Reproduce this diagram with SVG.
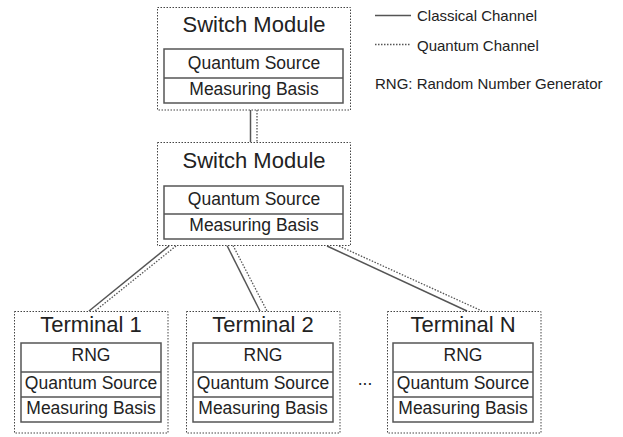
<svg xmlns="http://www.w3.org/2000/svg" width="623" height="437" viewBox="0 0 623 437">
<style>
text{font-family:"Liberation Sans",Arial,sans-serif;fill:#222;text-anchor:middle}
.outer{fill:#fff;stroke:#444;stroke-width:1;stroke-dasharray:1.5 1.5}
.inner{fill:#fff;stroke:#555;stroke-width:1.5}
.div{stroke:#555;stroke-width:1.5}
.title{font-size:22px}
.item{font-size:17.5px}
.legend{font-size:15px;text-anchor:start}
.cl{stroke:#555;stroke-width:1.5;fill:none}
.qu{stroke:#555;stroke-width:1.3;stroke-dasharray:1.5 1.5;fill:none}
</style>
<g id="connectors">
<line class="cl" x1="250.5" y1="110" x2="250.5" y2="142"/>
<line class="qu" x1="257" y1="110" x2="257" y2="142"/>
<line class="cl" x1="169" y1="246" x2="89" y2="311"/>
<line class="qu" x1="176" y1="246" x2="95" y2="311"/>
<line class="cl" x1="227" y1="245.5" x2="260" y2="311"/>
<line class="qu" x1="233" y1="245.5" x2="267" y2="311"/>
<line class="cl" x1="327" y1="246" x2="467" y2="311"/>
<line class="qu" x1="339" y1="246" x2="482" y2="311"/>
</g>
<g id="legend">
<line class="cl" x1="375" y1="15.5" x2="411" y2="15.5"/>
<text class="legend" x="417" y="21">Classical Channel</text>
<line class="qu" x1="375" y1="44.5" x2="411" y2="44.5"/>
<text class="legend" x="417" y="50.5">Quantum Channel</text>
<text class="legend" x="375" y="89">RNG: Random Number Generator</text>
</g>
<g id="switch1">
<rect class="outer" x="157.5" y="7.5" width="193" height="102.5"/>
<text class="title" x="254" y="32">Switch Module</text>
<rect class="inner" x="164" y="49" width="179" height="54"/>
<line class="div" x1="164" y1="78" x2="343" y2="78"/>
<text class="item" x="254" y="68.5">Quantum Source</text>
<text class="item" x="254" y="95">Measuring Basis</text>
</g>
<g id="switch2">
<rect class="outer" x="157.5" y="142.5" width="193" height="103"/>
<text class="title" x="254" y="168">Switch Module</text>
<rect class="inner" x="164" y="186" width="179" height="53"/>
<line class="div" x1="164" y1="214" x2="343" y2="214"/>
<text class="item" x="254" y="204.5">Quantum Source</text>
<text class="item" x="254" y="231">Measuring Basis</text>
</g>
<g id="terminal1">
<rect class="outer" x="14.5" y="311.5" width="153.5" height="121.5"/>
<text class="title" x="91" y="332">Terminal 1</text>
<rect class="inner" x="21" y="343" width="140" height="79"/>
<line class="div" x1="21" y1="372" x2="161" y2="372"/>
<line class="div" x1="21" y1="397" x2="161" y2="397"/>
<text class="item" x="91" y="361">RNG</text>
<text class="item" x="91" y="388.5">Quantum Source</text>
<text class="item" x="91" y="413.5">Measuring Basis</text>
</g>
<g id="terminal2">
<rect class="outer" x="186.5" y="311.5" width="153.5" height="121.5"/>
<text class="title" x="263" y="332">Terminal 2</text>
<rect class="inner" x="193" y="343" width="140" height="79"/>
<line class="div" x1="193" y1="372" x2="333" y2="372"/>
<line class="div" x1="193" y1="397" x2="333" y2="397"/>
<text class="item" x="263" y="361">RNG</text>
<text class="item" x="263" y="388.5">Quantum Source</text>
<text class="item" x="263" y="413.5">Measuring Basis</text>
</g>
<g id="ellipsis">
<text class="item" x="365" y="385">...</text>
</g>
<g id="terminalN">
<rect class="outer" x="387.5" y="311.5" width="153.5" height="121.5"/>
<text class="title" x="463" y="332">Terminal N</text>
<rect class="inner" x="393" y="343" width="140" height="79"/>
<line class="div" x1="393" y1="372" x2="533" y2="372"/>
<line class="div" x1="393" y1="397" x2="533" y2="397"/>
<text class="item" x="463" y="361">RNG</text>
<text class="item" x="463" y="388.5">Quantum Source</text>
<text class="item" x="463" y="413.5">Measuring Basis</text>
</g>
</svg>
